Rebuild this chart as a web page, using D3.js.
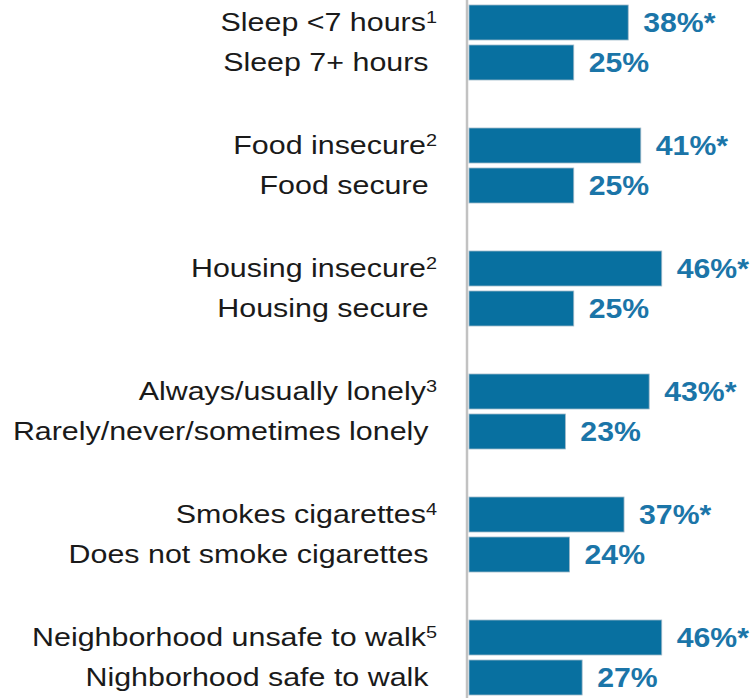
<!DOCTYPE html>
<html>
<head>
<meta charset="utf-8">
<script src="https://cdn.jsdelivr.net/npm/d3@7"></script>
<style>
html, body { margin: 0; padding: 0; background: #fff; }
svg { display: block; }
text { white-space: pre; }
</style>
</head>
<body>
<svg id="chart" width="754" height="698"></svg>
<script>
// Data
const groups = ["Sleep", "Food", "Housing", "Loneliness", "Smoking", "Neighborhood"];
const labels = [
  ["Sleep <7 hours", "Sleep 7+ hours"],
  ["Food insecure", "Food secure"],
  ["Housing insecure", "Housing secure"],
  ["Always/usually lonely", "Rarely/never/sometimes lonely"],
  ["Smokes cigarettes", "Does not smoke cigarettes"],
  ["Neighborhood unsafe to walk", "Nighborhood safe to walk"]
];
const footnotes = [["1", ""], ["2", ""], ["2", ""], ["3", ""], ["4", ""], ["5", ""]];
const values = [[38, 25], [41, 25], [46, 25], [43, 23], [37, 24], [46, 27]];
const significant = [[true, false], [true, false], [true, false], [true, false], [true, false], [true, false]];

const rows = [];
groups.forEach((g, gi) => {
  [0, 1].forEach(k => rows.push({
    group: g, k, label: labels[gi][k], note: footnotes[gi][k],
    value: values[gi][k], sig: significant[gi][k]
  }));
});

const svg = d3.select("#chart");
const barColor = "#0870A0";
const textColor = "#1B75A8";

const x = d3.scaleLinear().domain([0, 100]).range([469, 888]);
const yGroup = d3.scaleBand().domain(groups).range([5, 5 + 123 * groups.length]).paddingInner(0).paddingOuter(0);
const yInner = d3.scaleBand().domain([0, 1]).range([0, 75]).paddingInner(0.125).paddingOuter(0);

// axis line
svg.append("line")
  .attr("x1", 467).attr("x2", 467)
  .attr("y1", 0).attr("y2", 698)
  .attr("stroke", "#C2C2C2").attr("stroke-width", 2.5);

// bars
svg.selectAll("rect.bar").data(rows).enter().append("rect")
  .attr("class", "bar")
  .attr("x", x(0))
  .attr("y", d => yGroup(d.group) + yInner(d.k))
  .attr("width", d => x(d.value) - x(0))
  .attr("height", yInner.bandwidth())
  .attr("fill", barColor)
  .attr("stroke", "#9fb8c8")
  .attr("stroke-width", 0.8);

// category labels
const cat = svg.selectAll("text.cat").data(rows).enter().append("text")
  .attr("class", "cat")
  .attr("transform", d => `translate(437,${yGroup(d.group) + yInner(d.k) + yInner.bandwidth() / 2}) scale(1.17,1)`)
  .attr("text-anchor", "end")
  .attr("dy", "0.34em")
  .attr("font-family", "'Liberation Sans', Arial, sans-serif")
  .attr("font-size", 26)
  .attr("fill", "#1a1a1a");
cat.append("tspan").text(d => d.note === "" ? d.label + " " : d.label);
cat.filter(d => d.note !== "").append("tspan")
  .attr("font-size", 17)
  .attr("dy", -8)
  .text(d => d.note);

// value labels
svg.selectAll("text.val").data(rows).enter().append("text")
  .attr("class", "val")
  .attr("transform", d => `translate(${x(d.value) + 15},${yGroup(d.group) + yInner(d.k) + yInner.bandwidth() / 2}) scale(1.12,1)`)
  .attr("dy", "0.36em")
  .attr("font-family", "'Liberation Sans', Arial, sans-serif")
  .attr("font-weight", "bold")
  .attr("font-size", 27)
  .attr("fill", textColor)
  .text(d => d.value + "%" + (d.sig ? "*" : ""));
</script>
</body>
</html>
